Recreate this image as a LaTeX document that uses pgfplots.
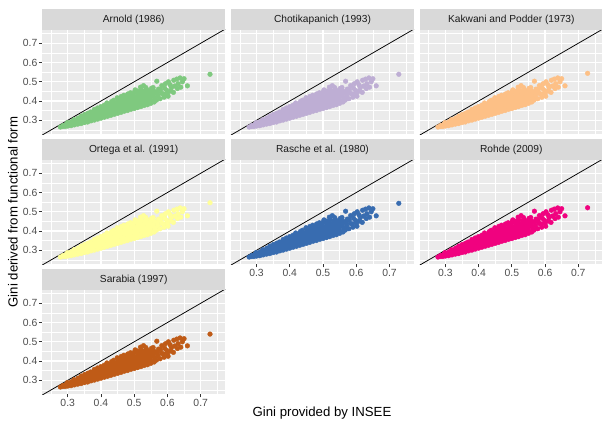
\documentclass[border=0pt]{standalone}
\usepackage{pgfplots}
\pgfplotsset{compat=1.18}
\usepackage{pgfplotstable}
\usepackage{fontspec}
\setmainfont{Liberation Sans}
\definecolor{panelbg}{HTML}{EBEBEB}
\definecolor{stripbg}{HTML}{D9D9D9}
\definecolor{ticklab}{HTML}{4D4D4D}
\definecolor{tickcol}{HTML}{333333}
\definecolor{striptext}{HTML}{1A1A1A}
\definecolor{cA}{HTML}{7FC97F}
\definecolor{cB}{HTML}{BEAED4}
\definecolor{cC}{HTML}{FDC086}
\definecolor{cD}{HTML}{FFFF99}
\definecolor{cE}{HTML}{386CB0}
\definecolor{cF}{HTML}{F0027F}
\definecolor{cG}{HTML}{BF5B17}

\pgfplotstableread[row sep=\\]{
x y\\
0.278 0.265\\ 0.285 0.268\\ 0.286 0.273\\ 0.292 0.268\\ 0.294 0.277\\
0.300 0.270\\ 0.302 0.280\\ 0.299 0.288\\ 0.310 0.272\\ 0.308 0.282\\ 0.311 0.292\\
0.320 0.276\\ 0.318 0.286\\ 0.322 0.296\\ 0.319 0.303\\
0.330 0.280\\ 0.332 0.291\\ 0.328 0.301\\ 0.331 0.311\\
0.340 0.283\\ 0.338 0.294\\ 0.342 0.305\\ 0.339 0.316\\ 0.341 0.322\\
0.350 0.288\\ 0.348 0.298\\ 0.352 0.309\\ 0.349 0.320\\ 0.351 0.330\\
0.360 0.291\\ 0.358 0.302\\ 0.362 0.314\\ 0.359 0.325\\ 0.361 0.337\\
0.370 0.297\\ 0.372 0.307\\ 0.368 0.318\\ 0.371 0.330\\ 0.369 0.343\\
0.380 0.301\\ 0.378 0.312\\ 0.382 0.323\\ 0.379 0.335\\ 0.381 0.347\\ 0.380 0.356\\
0.390 0.306\\ 0.392 0.317\\ 0.388 0.328\\ 0.391 0.340\\ 0.389 0.352\\ 0.390 0.364\\
0.400 0.311\\ 0.398 0.322\\ 0.402 0.333\\ 0.399 0.345\\ 0.401 0.357\\ 0.400 0.371\\
0.410 0.316\\ 0.412 0.327\\ 0.408 0.338\\ 0.411 0.350\\ 0.409 0.362\\ 0.410 0.378\\
0.420 0.321\\ 0.418 0.332\\ 0.422 0.343\\ 0.419 0.355\\ 0.421 0.367\\ 0.420 0.379\\ 0.418 0.390\\
0.430 0.326\\ 0.432 0.337\\ 0.428 0.348\\ 0.431 0.360\\ 0.429 0.372\\ 0.430 0.384\\ 0.432 0.397\\
0.440 0.331\\ 0.438 0.342\\ 0.442 0.353\\ 0.439 0.365\\ 0.441 0.377\\ 0.440 0.389\\ 0.438 0.404\\
0.450 0.336\\ 0.452 0.347\\ 0.448 0.358\\ 0.451 0.370\\ 0.449 0.382\\ 0.450 0.394\\ 0.452 0.407\\ 0.449 0.417\\
0.460 0.341\\ 0.458 0.352\\ 0.462 0.363\\ 0.459 0.375\\ 0.461 0.387\\ 0.460 0.399\\ 0.458 0.412\\ 0.461 0.424\\
0.470 0.347\\ 0.472 0.357\\ 0.468 0.368\\ 0.471 0.380\\ 0.469 0.392\\ 0.470 0.404\\ 0.472 0.417\\ 0.469 0.430\\
0.480 0.351\\ 0.478 0.362\\ 0.482 0.373\\ 0.479 0.385\\ 0.481 0.397\\ 0.480 0.409\\ 0.478 0.422\\ 0.481 0.437\\
0.490 0.357\\ 0.492 0.367\\ 0.488 0.378\\ 0.491 0.390\\ 0.489 0.402\\ 0.490 0.414\\ 0.492 0.427\\ 0.489 0.443\\
0.500 0.361\\ 0.498 0.372\\ 0.502 0.383\\ 0.499 0.395\\ 0.501 0.407\\ 0.500 0.419\\ 0.498 0.432\\ 0.501 0.447\\ 0.503 0.458\\
0.510 0.366\\ 0.512 0.377\\ 0.508 0.389\\ 0.511 0.400\\ 0.509 0.412\\ 0.510 0.424\\ 0.512 0.437\\ 0.509 0.452\\
0.520 0.371\\ 0.518 0.382\\ 0.522 0.394\\ 0.519 0.406\\ 0.521 0.418\\ 0.520 0.430\\ 0.518 0.444\\ 0.521 0.458\\ 0.519 0.472\\
0.530 0.377\\ 0.532 0.388\\ 0.528 0.400\\ 0.531 0.412\\ 0.529 0.424\\ 0.530 0.437\\ 0.532 0.452\\ 0.528 0.480\\
0.540 0.381\\ 0.538 0.393\\ 0.542 0.406\\ 0.539 0.418\\ 0.541 0.430\\ 0.540 0.443\\ 0.538 0.459\\
0.550 0.388\\ 0.552 0.399\\ 0.548 0.412\\ 0.551 0.425\\ 0.549 0.438\\ 0.550 0.452\\ 0.552 0.466\\
0.535 0.470\\ 0.545 0.396\\
0.560 0.395\\ 0.562 0.415\\ 0.558 0.433\\ 0.561 0.450\\ 0.557 0.470\\
0.567 0.405\\ 0.571 0.428\\ 0.569 0.445\\ 0.573 0.462\\ 0.568 0.503\\
0.578 0.412\\ 0.582 0.440\\ 0.579 0.458\\ 0.583 0.480\\
0.590 0.420\\ 0.588 0.437\\ 0.592 0.466\\ 0.594 0.490\\
0.602 0.425\\ 0.600 0.440\\ 0.598 0.455\\ 0.603 0.500\\
0.610 0.452\\ 0.612 0.470\\ 0.608 0.485\\
0.618 0.445\\ 0.622 0.478\\ 0.619 0.508\\
0.630 0.465\\ 0.632 0.490\\ 0.628 0.514\\
0.640 0.472\\ 0.645 0.500\\ 0.638 0.520\\
0.650 0.516\\ 0.660 0.479\\
}\cloud

\pgfplotsset{
 facet/.style={
  scale only axis, width=183.4pt, height=104.3pt, anchor=north west,
  xmin=0.2227, xmax=0.7743, ymin=0.2273, ymax=0.769,
  axis background/.style={fill=panelbg},
  axis line style={draw=none},
  xtick={0.3,0.4,0.5,0.6,0.7}, ytick={0.3,0.4,0.5,0.6,0.7},
  minor xtick={0.25,0.35,0.45,0.55,0.65,0.75},
  minor ytick={0.25,0.35,0.45,0.55,0.65,0.75},
  grid=both,
  major grid style={white, line width=1.2pt},
  minor grid style={white, line width=0.6pt},
  tick align=outside, major tick length=3.2pt, minor tick length=0pt,
  tick style={tickcol, line width=0.7pt},
  xtick pos=bottom, ytick pos=left,
  ticklabel style={font=\fontsize{10.4}{12}\selectfont, text=ticklab},
  xticklabel style={inner sep=1.2pt},
  yticklabel style={inner sep=1.2pt},
  /pgf/number format/.cd, fixed, fixed zerofill, precision=1, assume math mode=true, /pgfplots/.cd,
  every axis title shift=0pt,
  title style={fill=stripbg, minimum width=183.4pt, minimum height=20.5pt, inner sep=0pt,
    at={(0.5,1)}, anchor=south, yshift=0pt, font=\fontsize{10.2}{12}\selectfont, text=striptext},
 },
 noxt/.style={xticklabels={}, xtick style={draw=none}},
 noyt/.style={yticklabels={}, ytick style={draw=none}},
 pts/.style={color=#1, only marks, mark=*, mark size=2.35pt, mark options={draw=none, fill=#1}},
 diag/.style={black, line width=0.75pt},
}

\begin{document}
\begin{tikzpicture}
\useasboundingbox (0,0) rectangle (602pt,428pt);

\begin{axis}[facet, noxt, at={(42pt,398pt)}, title={Arnold (1986)}]
\addplot[pts=cA] table {\cloud};
\addplot[pts=cA] coordinates {(0.728,0.539)};
\addplot[diag] coordinates {(0.2,0.2) (0.8,0.8)};
\end{axis}

\begin{axis}[facet, noxt, noyt, at={(230.8pt,398pt)}, title={Chotikapanich (1993)}]
\addplot[pts=cB] table {\cloud};
\addplot[pts=cB] coordinates {(0.728,0.539)};
\addplot[diag] coordinates {(0.2,0.2) (0.8,0.8)};
\end{axis}

\begin{axis}[facet, noxt, noyt, at={(419.6pt,398pt)}, title={Kakwani and Podder (1973)}]
\addplot[pts=cC] table {\cloud};
\addplot[pts=cC] coordinates {(0.728,0.544)};
\addplot[diag] coordinates {(0.2,0.2) (0.8,0.8)};
\end{axis}

\begin{axis}[facet, noxt, at={(42pt,268pt)}, title={Ortega et al. (1991)}]
\addplot[pts=cD] table {\cloud};
\addplot[pts=cD] coordinates {(0.728,0.547)};
\addplot[diag] coordinates {(0.2,0.2) (0.8,0.8)};
\end{axis}

\begin{axis}[facet, noyt, at={(230.8pt,268pt)}, title={Rasche et al. (1980)}]
\addplot[pts=cE] table {\cloud};
\addplot[pts=cE] coordinates {(0.728,0.544)};
\addplot[diag] coordinates {(0.2,0.2) (0.8,0.8)};
\end{axis}

\begin{axis}[facet, noyt, at={(419.6pt,268pt)}, title={Rohde (2009)}]
\addplot[pts=cF] table {\cloud};
\addplot[pts=cF] coordinates {(0.728,0.521)};
\addplot[diag] coordinates {(0.2,0.2) (0.8,0.8)};
\end{axis}

\begin{axis}[facet, at={(42pt,138pt)}, title={Sarabia (1997)}]
\addplot[pts=cG] table {\cloud};
\addplot[pts=cG] coordinates {(0.728,0.540)};
\addplot[diag] coordinates {(0.2,0.2) (0.8,0.8)};
\end{axis}

\node[rotate=90, font=\fontsize{13.2}{15}\selectfont] at (13pt,216pt) {Gini derived from functional form};
\node[font=\fontsize{13.2}{15}\selectfont] at (322pt,15pt) {Gini provided by INSEE};
\end{tikzpicture}
\end{document}
